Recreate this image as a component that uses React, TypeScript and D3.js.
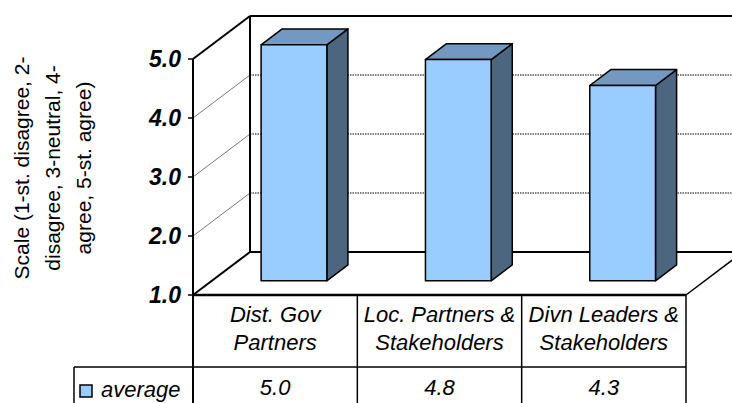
import React from "react";
import * as d3 from "d3";

const categories = ["Dist. Gov\nPartners", "Loc. Partners &\nStakeholders", "Divn Leaders &\nStakeholders"];
const values = [5.0, 4.75, 4.31];
const valueLabels = ["5.0", "4.8", "4.3"];
const yTicks = [1, 2, 3, 4, 5];
const gridTicks = [2, 3, 4];
const seriesName = "average";
const yTitleLines = ["Scale (1-st. disagree, 2-", "disagree, 3-neutral, 4-", "agree, 5-st. agree)"];

const W = 732;
const H = 403;
const FONT = "Arial, 'Liberation Sans', sans-serif";

export default function App() {
  const x0 = 193;
  const x1 = 686;
  const y = d3.scaleLinear().domain([1, 5]).range([295, 59]);
  const depth = { dx: 57, dy: -43 };
  const band = d3.scaleBand<string>().domain(categories).range([x0, x1]).paddingInner(0.6).paddingOuter(0.3);
  const colScale = d3.scaleBand<string>().domain(categories).range([x0, x1]);
  const f1 = 0.33;
  const f2 = 0.7;
  const p = (x: number, yy: number, f: number): [number, number] => [x + depth.dx * f, yy + depth.dy * f];
  const poly = (pts: [number, number][]) => pts.map((q) => q.join(",")).join(" ");

  const backLeft = x0 + depth.dx;
  const backRight = x1 + depth.dx;
  const topY = y(5) + depth.dy;
  const floorBackY = y(1) + depth.dy;

  const frontFill = "#99CCFF";
  const topFill = "#7399C2";
  const sideFill = "#4D6680";

  const tableTop = y(1);
  const rowDiv = 367;

  return (
    <svg width={W} height={H} style={{ position: "absolute", left: 0, top: 0, background: "#fff" }} fontFamily={FONT}>
      <rect x={backLeft} y={topY} width={backRight - backLeft} height={floorBackY - topY} fill="#fff" />
      {gridTicks.map((t) => (
        <line key={"bg" + t} x1={backLeft} x2={backRight} y1={y(t) + depth.dy} y2={y(t) + depth.dy}
          stroke="#000" strokeWidth={1} strokeDasharray="1.5,1" />
      ))}
      {gridTicks.map((t) => (
        <line key={"sg" + t} x1={x0} y1={y(t)} x2={backLeft} y2={y(t) + depth.dy} stroke="#555" strokeWidth={0.8} />
      ))}
      <line x1={backLeft} x2={backRight} y1={topY} y2={topY} stroke="#000" strokeWidth={2} />
      <line x1={backLeft} x2={backRight} y1={floorBackY} y2={floorBackY} stroke="#000" strokeWidth={2} />
      <line x1={backLeft} x2={backLeft} y1={topY} y2={floorBackY} stroke="#000" strokeWidth={2} />
      <line x1={x0} y1={y(5)} x2={backLeft} y2={topY} stroke="#000" strokeWidth={2} />
      <line x1={x0} y1={y(1)} x2={backLeft} y2={floorBackY} stroke="#000" strokeWidth={2} />
      <line x1={x1} y1={y(1)} x2={backRight} y2={floorBackY} stroke="#000" strokeWidth={1.5} />

      {categories.map((c, i) => {
        const bx = band(c)!;
        const bw = band.bandwidth();
        const v = values[i];
        const fl = p(bx, y(1), f1);
        const fr = p(bx + bw, y(1), f1);
        const tl = p(bx, y(v), f1);
        const tr = p(bx + bw, y(v), f1);
        const btl = p(bx, y(v), f2);
        const btr = p(bx + bw, y(v), f2);
        const bbr = p(bx + bw, y(1), f2);
        return (
          <g key={c} stroke="#000" strokeWidth={1.5} strokeLinejoin="round">
            <polygon points={poly([tr, btr, bbr, fr])} fill={sideFill} />
            <polygon points={poly([tl, btl, btr, tr])} fill={topFill} />
            <polygon points={poly([tl, tr, fr, fl])} fill={frontFill} />
          </g>
        );
      })}

      <line x1={x0} x2={x0} y1={y(5)} y2={H} stroke="#000" strokeWidth={2} />
      {yTicks.map((t) => (
        <g key={"t" + t}>
          <line x1={x0 - 5} x2={x0} y1={y(t)} y2={y(t)} stroke="#000" strokeWidth={1.5} />
          <text x={181} y={y(t) + 8} textAnchor="end" fontSize={23} fontWeight="bold" fontStyle="italic">
            {t.toFixed(1)}
          </text>
        </g>
      ))}

      {yTitleLines.map((l, i) => (
        <text key={"yt" + i} transform={`translate(${28.5 + i * 31},168) rotate(-90)`} textAnchor="middle" fontSize={21}>
          {l}
        </text>
      ))}

      <line x1={x0} x2={x1} y1={tableTop} y2={tableTop} stroke="#000" strokeWidth={2.5} />
      <line x1={74} x2={x1} y1={rowDiv} y2={rowDiv} stroke="#000" strokeWidth={1.5} />
      <line x1={74} x2={74} y1={rowDiv} y2={H} stroke="#000" strokeWidth={1.5} />
      {categories.map((c, i) => {
        const cx = colScale(c)! + colScale.bandwidth() / 2;
        const right = colScale(c)! + colScale.bandwidth();
        return (
          <g key={"col" + c}>
            <line x1={right} x2={right} y1={tableTop} y2={H} stroke="#000" strokeWidth={1.5} />
            {c.split("\n").map((ln, j) => (
              <text key={j} x={cx} y={322 + j * 28} textAnchor="middle" fontSize={22} fontStyle="italic">
                {ln}
              </text>
            ))}
            <text x={cx} y={395} textAnchor="middle" fontSize={22} fontStyle="italic">
              {valueLabels[i]}
            </text>
          </g>
        );
      })}
      <rect x={80} y={385} width={12} height={12} fill={frontFill} stroke="#000" strokeWidth={1.5} />
      <text x={101} y={397} fontSize={22} fontStyle="italic">
        {seriesName}
      </text>
    </svg>
  );
}
